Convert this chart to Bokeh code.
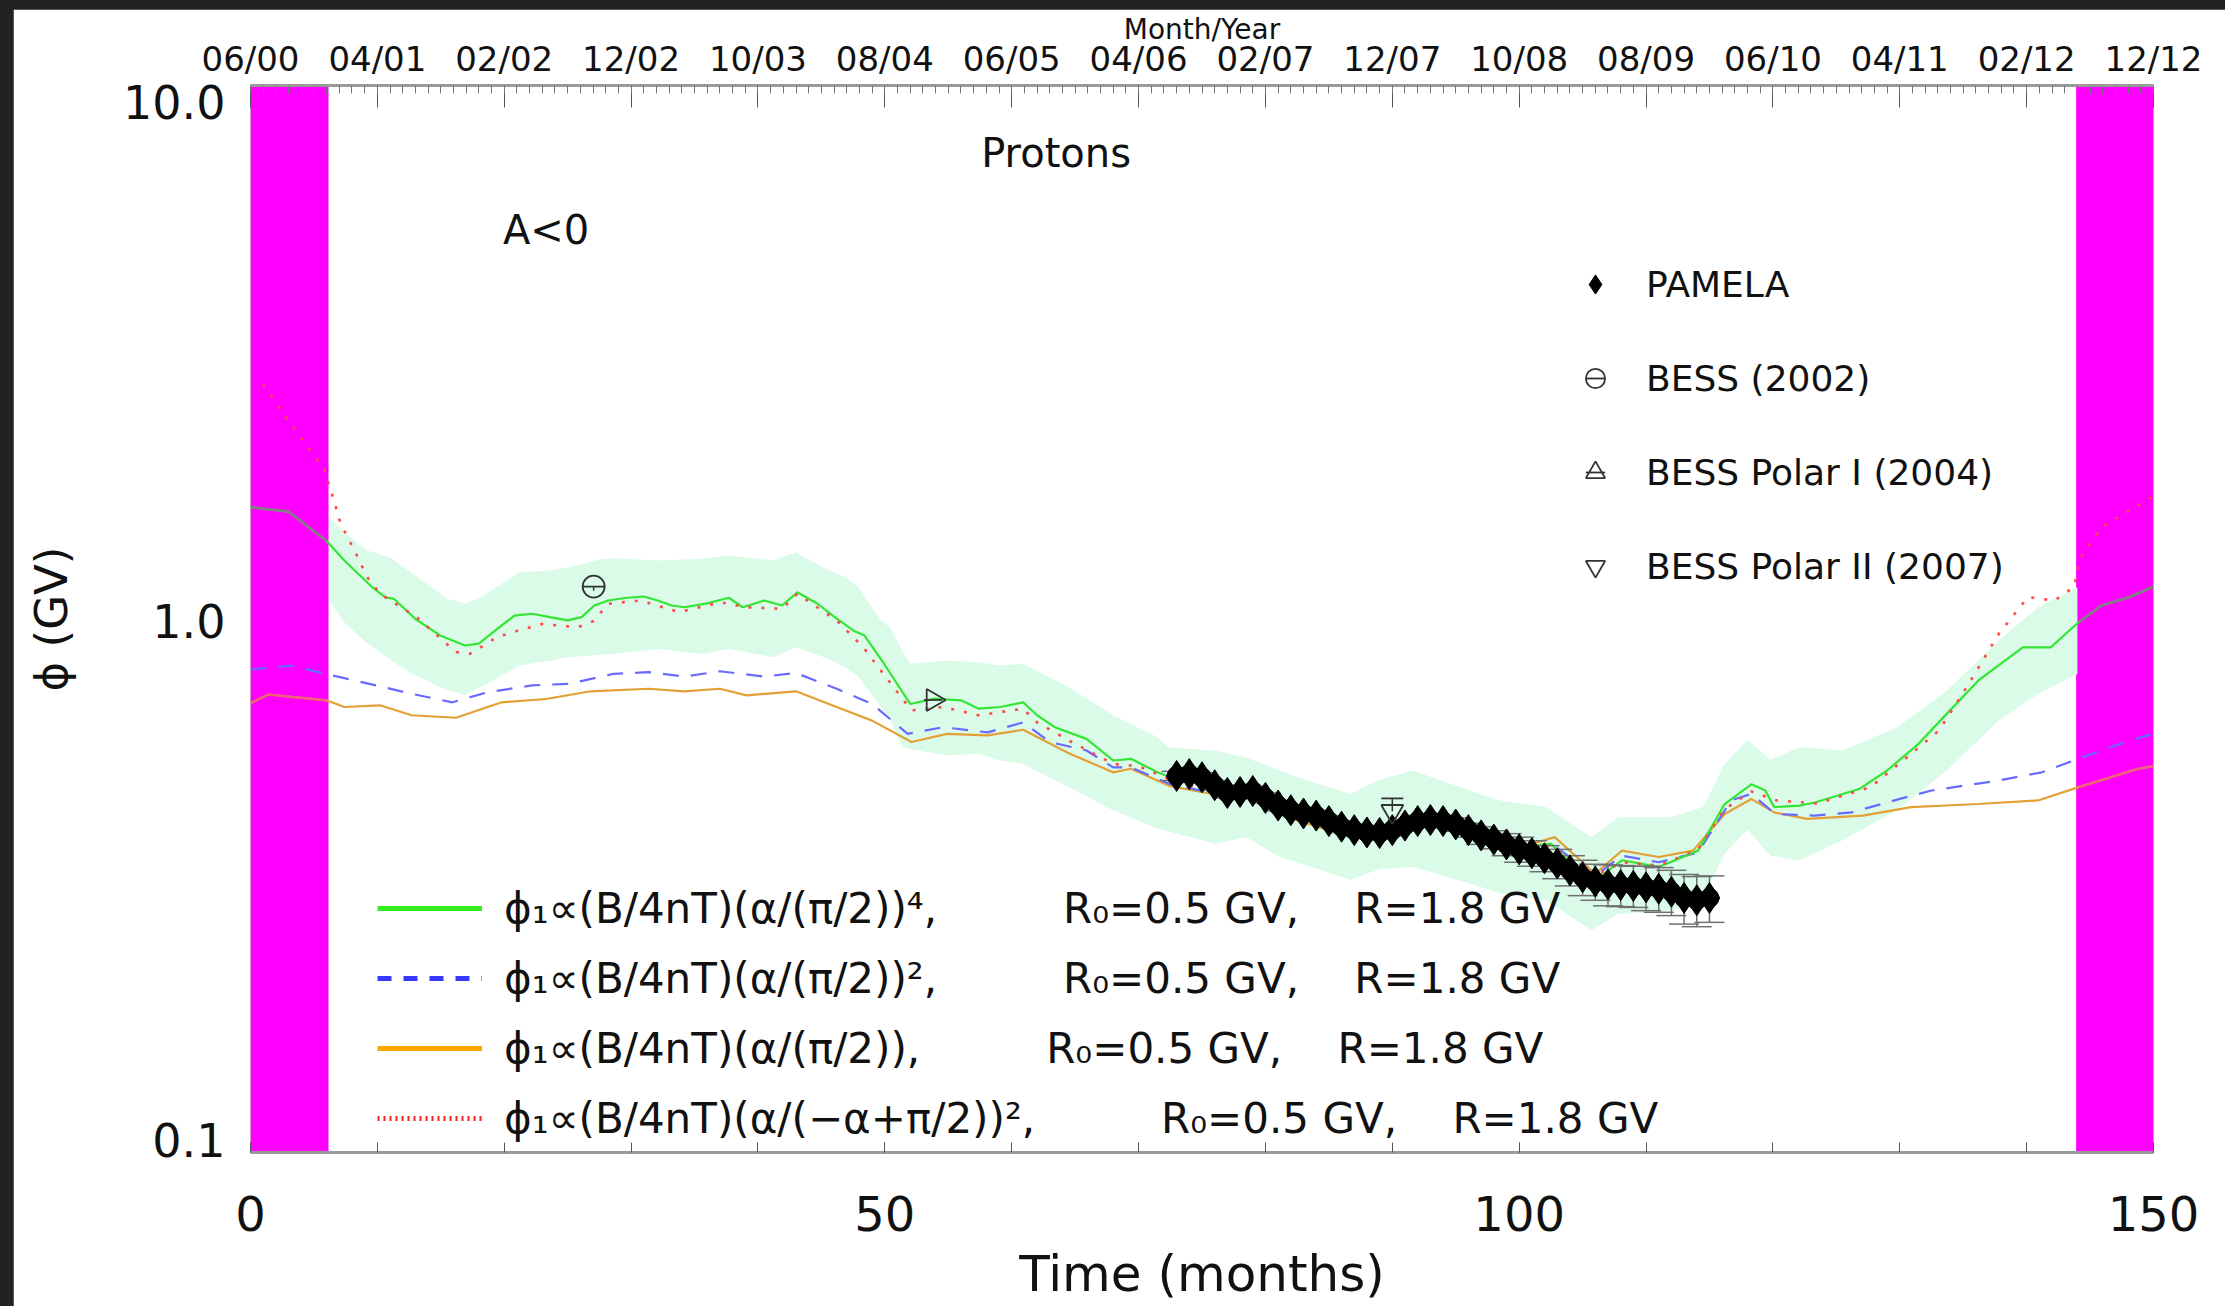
from bokeh.plotting import figure
from bokeh.models import (Range1d, LinearAxis, LogAxis, LogScale, FixedTicker, Legend,
                          LegendItem, Label, BoxAnnotation)
from bokeh.layouts import column
from bokeh.embed import file_html
from bokeh.resources import INLINE
import math

FONT = "DejaVu Sans"

# ---------------- data ----------------
# top axis (month/year) labels every 10 months
top_ticks = [0, 10, 20, 30, 40, 50, 60, 70, 80, 90, 100, 110, 120, 130, 140, 150]
top_labels = ["06/00", "04/01", "02/02", "12/02", "10/03", "08/04", "06/05", "04/06",
              "02/07", "12/07", "10/08", "08/09", "06/10", "04/11", "02/12", "12/12"]
bottom_ticks = [0, 50, 100, 150]
y_ticks = [0.1, 1, 10]
y_labels = ["0.1", "1.0", "10.0"]

# periods without data (magenta)
gap_start = [0, 143.9]
gap_end = [6.15, 150]

# phi ~ (B/4nT)(alpha/(pi/2))^4  (green)
months_g = [0, 3, 6, 7.4, 9.6, 10.6, 11.3, 13, 15, 16.9, 18, 19.5, 20.8, 22.2, 23.6, 25, 26.1,
            27.1, 28.2, 29.5, 31, 32.1, 33.2, 34.2, 36, 37.7, 38.8, 40.5, 41.9, 43.1, 44.7, 46,
            47.5, 48.4, 50, 52, 53.9, 56, 57.4, 59.1, 60.9, 62, 63.4, 65.9, 68, 69.4, 71.5, 72.5,
            74, 75.8, 77.5, 79.6, 81.7, 84, 86.7, 89.5, 92.7, 94.5, 96.6, 98.5, 100.4, 102.5, 104,
            106, 108.1, 111, 114.1, 116.2, 118.3, 119.4, 120.1, 122.1, 123.3, 126.8, 129, 131.5,
            133.7, 136.2, 139.7, 141.9, 144.1, 145.9, 148.1, 150]
phi_a4 = [1.62, 1.59, 1.40, 1.287, 1.147, 1.099, 1.091, 1.0, 0.93, 0.892, 0.899, 0.96, 1.015,
          1.023, 1.008, 0.994, 1.008, 1.06, 1.083, 1.095, 1.102, 1.083, 1.06, 1.052, 1.07, 1.096,
          1.052, 1.083, 1.06, 1.122, 1.068, 1.01, 0.952, 0.931, 0.82, 0.693, 0.709, 0.704, 0.679,
          0.684, 0.698, 0.66, 0.627, 0.596, 0.543, 0.547, 0.516, 0.505, 0.5, 0.477, 0.478, 0.477,
          0.431, 0.415, 0.398, 0.401, 0.431, 0.425, 0.413, 0.395, 0.374, 0.379, 0.35, 0.324,
          0.353, 0.343, 0.368, 0.45, 0.49, 0.477, 0.444, 0.447, 0.453, 0.48, 0.52, 0.584, 0.664,
          0.767, 0.885, 0.885, 0.986, 1.06, 1.099, 1.15]

# phi ~ (B/4nT)(alpha/(pi/2))^2  (blue dashed)
months_b = [0, 3.2, 6.1, 9.9, 12.7, 15.9, 18.7, 22.2, 25.1, 28.6, 31.4, 34.2, 37, 40.5, 43, 46.2,
            49, 51.8, 54.6, 58.1, 60.9, 63, 65.9, 68, 69.4, 72.5, 75.8, 79.6, 81.7, 86.7, 89.5,
            92.7, 96.6, 100.4, 102.5, 106, 108.1, 111, 114.1, 116.7, 118.3, 120.2, 123.3, 126.2,
            130, 132.5, 137.8, 141.2, 143.7, 147.8, 150]
phi_a2 = [0.804, 0.818, 0.787, 0.751, 0.724, 0.698, 0.729, 0.751, 0.756, 0.789, 0.795, 0.78, 0.798,
          0.78, 0.792, 0.74, 0.693, 0.609, 0.627, 0.613, 0.64, 0.588, 0.567, 0.527, 0.527, 0.49,
          0.472, 0.47, 0.428, 0.395, 0.398, 0.428, 0.408, 0.372, 0.38, 0.33, 0.36, 0.35, 0.365,
          0.457, 0.47, 0.431, 0.428, 0.434, 0.46, 0.477, 0.498, 0.516, 0.543, 0.588, 0.61]

# phi ~ (B/4nT)(alpha/(pi/2))  (orange)
months_o = [0, 1.4, 6.0, 7.4, 10.2, 12.7, 16.2, 19.8, 23.3, 26.8, 31.4, 34.2, 37, 39.1, 43, 46.2,
            49, 52.1, 54.9, 58.1, 60.9, 64.5, 68, 69.4, 72.5, 75.8, 79.6, 81.7, 86.7, 89.5, 92.7,
            96.6, 100.4, 102.8, 106, 108.1, 111, 113.7, 116.2, 118.3, 120.1, 122.7, 127.1, 130.9,
            136.2, 140.9, 144.1, 148.8, 150]
phi_a1 = [0.695, 0.722, 0.704, 0.684, 0.689, 0.66, 0.653, 0.698, 0.708, 0.732, 0.74, 0.732, 0.74,
          0.719, 0.732, 0.684, 0.645, 0.588, 0.609, 0.605, 0.62, 0.56, 0.516, 0.524, 0.486, 0.47,
          0.468, 0.425, 0.39, 0.395, 0.425, 0.405, 0.375, 0.39, 0.333, 0.368, 0.358, 0.368, 0.431,
          0.46, 0.434, 0.422, 0.428, 0.444, 0.45, 0.457, 0.484, 0.524, 0.53]

# phi ~ (B/4nT)(alpha/(-alpha+pi/2))^2  (red dotted)
months_r = [1.0, 3.0, 5.8, 6.5, 7.1, 8.2, 9.2, 10.2, 13.1, 16.2, 17.3, 19.4, 21.0, 23.0, 25.8, 27.0,
            28.2, 30.7, 33.8, 37.0, 39.1, 41.9, 43.1, 46.2, 48.3, 49.7, 52.1, 54.6, 57.4, 60.9, 62.0,
            64.5, 68.0, 70.0, 72.5, 75.8, 79.6, 81.7, 86.7, 89.5, 92.7, 96.6, 100.4, 102.5, 106.0,
            108.1, 111.0, 114.1, 116.2, 118.3, 120.3, 123.5, 127.7, 130.9, 133.1, 135.6, 137.8,
            140.1, 142.2, 143.7, 144.4, 145.9, 148.5, 150]
phi_am = [2.75, 2.35, 1.91, 1.69, 1.51, 1.344, 1.198, 1.115, 1.008, 0.867, 0.86, 0.924, 0.95,
          0.979, 0.965, 0.99, 1.068, 1.083, 1.03, 1.075, 1.052, 1.045, 1.115, 0.994, 0.885, 0.80,
          0.674, 0.684, 0.66, 0.679, 0.64, 0.592, 0.535, 0.53, 0.50, 0.475, 0.47, 0.43, 0.395, 0.40,
          0.428, 0.41, 0.37, 0.376, 0.33, 0.35, 0.345, 0.37, 0.44, 0.475, 0.457, 0.451, 0.484,
          0.559, 0.618, 0.767, 0.938, 1.099, 1.083, 1.147, 1.325, 1.486, 1.62, 1.7]

# uncertainty band (light green)
band_months = [6.2, 7.5, 9.2, 11, 12.7, 15.5, 16.9, 18, 18.7, 21.2, 23.6, 25.1, 27.8, 28.6, 32.1,
               35.6, 37.7, 41.2, 43, 45.1, 46.9, 47.9, 49.7, 50.4, 51.4, 52, 54.9, 57.4, 59.1,
               60.9, 64.5, 68, 71.5, 72.3, 76, 78.5, 81.1, 82, 86.7, 89, 91.6, 92.6, 96.9, 98.5,
               102.1, 105.7, 107.8, 112, 114.5, 116.2, 118, 119.8, 122.1, 125.5, 129.8, 133.7,
               137.8, 140.9, 144]
band_hi = [1.55, 1.45, 1.344, 1.306, 1.22, 1.091, 1.07, 1.091, 1.12, 1.224, 1.233, 1.25, 1.297,
           1.30, 1.287, 1.297, 1.315, 1.287, 1.334, 1.25, 1.198, 1.147, 0.994, 0.965, 0.87, 0.824,
           0.836, 0.83, 0.818, 0.824, 0.745, 0.66, 0.60, 0.575, 0.567, 0.55, 0.52, 0.51, 0.47,
           0.50, 0.52, 0.51, 0.47, 0.457, 0.444, 0.39, 0.425, 0.425, 0.444, 0.535, 0.594, 0.545,
           0.575, 0.567, 0.627, 0.734, 0.911, 1.052, 1.147]
band_lo = [1.08, 0.98, 0.90, 0.84, 0.79, 0.735, 0.72, 0.745, 0.757, 0.818, 0.835, 0.848, 0.858,
           0.86, 0.879, 0.86, 0.879, 0.848, 0.885, 0.85, 0.812, 0.78, 0.684, 0.65, 0.575, 0.57,
           0.555, 0.559, 0.543, 0.535, 0.484, 0.438, 0.405, 0.40, 0.379, 0.39, 0.358, 0.353,
           0.324, 0.34, 0.343, 0.338, 0.315, 0.306, 0.297, 0.261, 0.28, 0.284, 0.30, 0.363, 0.403,
           0.36, 0.353, 0.385, 0.438, 0.52, 0.645, 0.724, 0.789]

# PAMELA proton data
pamela_months = [73, 74, 75, 76, 77, 78, 79, 80, 81, 82, 83, 84, 85, 86, 87, 88, 89, 90, 91, 92,
                 93, 94, 95, 96, 97, 98, 99, 100, 101, 102, 103, 104, 105, 106, 107, 108, 109,
                 110, 111, 112, 113, 114, 115]
pamela_phi = [0.508, 0.512, 0.505, 0.488, 0.472, 0.474, 0.476, 0.462, 0.447, 0.438, 0.432, 0.428,
              0.418, 0.408, 0.402, 0.398, 0.397, 0.402, 0.41, 0.418, 0.42, 0.418, 0.412, 0.402,
              0.393, 0.386, 0.378, 0.37, 0.364, 0.356, 0.348, 0.338, 0.328, 0.322, 0.318, 0.317,
              0.316, 0.314, 0.312, 0.308, 0.300, 0.297, 0.300]
pamela_err = [0.01, 0.01, 0.01, 0.01, 0.01, 0.01, 0.01, 0.01, 0.01, 0.01, 0.01, 0.01, 0.01, 0.01,
              0.01, 0.01, 0.01, 0.01, 0.01, 0.01, 0.01, 0.01, 0.012, 0.012, 0.015, 0.015, 0.018,
              0.02, 0.02, 0.02, 0.022, 0.022, 0.025, 0.025, 0.028, 0.028, 0.028, 0.03, 0.03, 0.03,
              0.032, 0.032, 0.03]

# BESS balloon points
bess_month, bess_phi, bess_err = [27.05], [1.15], [0.02]
polar1_month, polar1_phi = [53.8], [0.705]
polar2_month, polar2_phi, polar2_err = [90.0], [0.436], [0.025]

model_labels = [
    "\u03d5\u2081\u221d(B/4nT)(\u03b1/(\u03c0/2))\u2074,\u2003\u2003\u2003R\u2080=0.5 GV,\u2003 R=1.8 GV",
    "\u03d5\u2081\u221d(B/4nT)(\u03b1/(\u03c0/2))\u00b2,\u2003\u2003\u2003R\u2080=0.5 GV,\u2003 R=1.8 GV",
    "\u03d5\u2081\u221d(B/4nT)(\u03b1/(\u03c0/2)),\u2003\u2003\u2003R\u2080=0.5 GV,\u2003 R=1.8 GV",
    "\u03d5\u2081\u221d(B/4nT)(\u03b1/(\u2212\u03b1+\u03c0/2))\u00b2,\u2003\u2003\u2003R\u2080=0.5 GV,\u2003 R=1.8 GV",
]
data_labels = ["PAMELA", "BESS (2002)", "BESS Polar I (2004)", "BESS Polar II (2007)"]


def inside_gaps(xs, ys):
    """split a series into the parts lying within the magenta periods"""
    parts = []
    for a, b in zip(gap_start, gap_end):
        px = [x for x in xs if a - 0.3 <= x <= b + 0.3]
        py = [y for x, y in zip(xs, ys) if a - 0.3 <= x <= b + 0.3]
        if len(px) > 1:
            parts.append((px, py))
    return parts


# ---------------- figure ----------------
p = figure(frame_width=1903, frame_height=1067,
           x_range=Range1d(0, 150), y_range=Range1d(0.1, 10), y_axis_type="log",
           y_axis_location=None,
           output_backend="svg", toolbar_location=None,
           min_border_left=237, min_border_right=72, min_border_top=76, min_border_bottom=154)
p.margin = (9, 0, 0, 13)
p.outline_line_color = None
p.grid.visible = False
p.background_fill_color = "white"
p.border_fill_color = "white"

p.title.text = "Month/Year"
p.title.align = "center"
p.title.text_font = FONT
p.title.text_font_size = "28px"
p.title.text_font_style = "normal"
p.title.text_color = "#111111"
p.title.standoff = -21

# magenta no-data periods
for a, b in zip(gap_start, gap_end):
    p.add_layout(BoxAnnotation(left=a, right=b, fill_color="#ff00ff", fill_alpha=1.0,
                               line_color=None, level="underlay"))

# light green band
p.varea(x=band_months, y1=band_lo, y2=band_hi, fill_color="#dbfbe9", fill_alpha=1.0)

# model curves
p.line(months_o, phi_a1, line_color="#e3a035", line_width=2.2)
p.line(months_b, phi_a2, line_color="#6a6aff", line_width=2.2, line_dash="16 12")
p.line(months_g, phi_a4, line_color="#33e633", line_width=2.2)
p.line(months_r, phi_am, line_color="#ff4a4a", line_width=2.6, line_dash="3 10")
for px, py in inside_gaps(months_g, phi_a4):
    p.line(px, py, line_color="#857a88", line_width=2.2)
for px, py in inside_gaps(months_o, phi_a1):
    p.line(px, py, line_color="#f0607a", line_width=2.2)

# PAMELA error bars + points
pam_lo = [v - e for v, e in zip(pamela_phi, pamela_err)]
pam_hi = [v + e for v, e in zip(pamela_phi, pamela_err)]
p.segment(x0=pamela_months, y0=pam_lo, x1=pamela_months, y1=pam_hi, line_color="#707070",
          line_width=1.5)
p.scatter(pamela_months, pam_lo, marker="dash", size=30, line_color="#707070", line_width=1.5)
p.scatter(pamela_months, pam_hi, marker="dash", size=30, line_color="#707070", line_width=1.5)
r_pam = p.scatter(pamela_months, pamela_phi, marker="diamond", size=31, fill_color="black",
                  line_color="black")
p.scatter(pamela_months, pamela_phi, marker="circle", size=19, fill_color="black",
          line_color="black")

# BESS points
bess_lo = [v - e for v, e in zip(bess_phi, bess_err)]
p.segment(x0=bess_month, y0=bess_lo, x1=bess_month, y1=bess_phi, line_color="#333333",
          line_width=1.5)
r_b1 = p.scatter(bess_month, bess_phi, marker="circle", size=22, fill_color=None,
                 line_color="#333333", line_width=1.8)
r_b2 = p.scatter(bess_month, bess_phi, marker="dash", size=22, line_color="#333333",
                 line_width=1.8)
r_p1a = p.scatter(polar1_month, polar1_phi, marker="triangle", angle=-math.pi / 2, size=22,
                  fill_color=None, line_color="#333333", line_width=1.8)
r_p1b = p.scatter(polar1_month, polar1_phi, marker="dash", size=18, line_color="#333333",
                  line_width=1.8)
p2_hi = [v + e for v, e in zip(polar2_phi, polar2_err)]
r_p2a = p.scatter(polar2_month, polar2_phi, marker="inverted_triangle", size=22,
                  fill_color=None, line_color="#333333", line_width=1.8)
r_p2b = p.scatter(polar2_month, p2_hi, marker="dash", size=22, line_color="#333333",
                  line_width=1.8)
p.segment(x0=polar2_month, y0=polar2_phi, x1=polar2_month, y1=p2_hi, line_color="#333333",
          line_width=1.5)

# legend sample glyphs (single point: the line itself draws nothing)
lg_g = p.line(months_g[:1], phi_a4[:1], line_color="#33ee22", line_width=5)
lg_b = p.line(months_b[:1], phi_a2[:1], line_color="#3838ff", line_width=5, line_dash="14 12")
lg_o = p.line(months_o[:1], phi_a1[:1], line_color="#ffa500", line_width=5)
lg_r = p.line(months_r[:1], phi_am[:1], line_color="#ff2020", line_width=5, line_dash="2 4")

leg1 = Legend(items=[LegendItem(label=model_labels[0], renderers=[lg_g]),
                     LegendItem(label=model_labels[1], renderers=[lg_b]),
                     LegendItem(label=model_labels[2], renderers=[lg_o]),
                     LegendItem(label=model_labels[3], renderers=[lg_r])],
              location=(127, 9), orientation="vertical", glyph_width=105, glyph_height=50,
              label_height=50, spacing=20, padding=0, margin=0, label_standoff=22,
              label_text_font=FONT, label_text_font_size="42px", label_text_color="#111111",
              border_line_color=None, background_fill_alpha=0)
p.add_layout(leg1)

leg2 = Legend(items=[LegendItem(label=data_labels[0], renderers=[r_pam]),
                     LegendItem(label=data_labels[1], renderers=[r_b1, r_b2]),
                     LegendItem(label=data_labels[2], renderers=[r_p1a, r_p1b]),
                     LegendItem(label=data_labels[3], renderers=[r_p2a])],
              location=(1321, 562), orientation="vertical", glyph_width=48, glyph_height=48,
              label_height=48, spacing=46, padding=0, margin=0, label_standoff=27,
              label_text_font=FONT, label_text_font_size="36px", label_text_color="#111111",
              border_line_color=None, background_fill_alpha=0)
p.add_layout(leg2)

# ---------------- axes ----------------
xb = p.below[0]
xb.ticker = FixedTicker(ticks=bottom_ticks, minor_ticks=list(range(0, 151, 10)))
xb.major_tick_in = 10
xb.major_tick_out = 0
xb.minor_tick_in = 10
xb.minor_tick_out = 0
xb.major_tick_line_color = "#555555"
xb.minor_tick_line_color = "#555555"
xb.axis_line_color = "#9a9a9a"
xb.axis_line_width = 3
xb.major_label_text_font = FONT
xb.major_label_text_font_size = "48px"
xb.major_label_text_color = "#111111"
xb.major_label_standoff = 43
xb.axis_label = "Time (months)"
xb.axis_label_text_font = FONT
xb.axis_label_text_font_size = "50px"
xb.axis_label_text_font_style = "normal"
xb.axis_label_text_color = "#111111"
xb.axis_label_standoff = 11

# left axis on a slightly wider twin range, so that "10.0" and "0.1" sit inside the frame
# edges as in the original figure
p.extra_y_ranges = {"ylab": Range1d(0.0945, 10.76)}
p.extra_y_scales = {"ylab": LogScale()}
yl = LogAxis(y_range_name="ylab", ticker=FixedTicker(ticks=y_ticks, minor_ticks=[]),
             major_label_overrides=dict(zip(y_ticks, y_labels)))
yl.major_tick_line_color = None
yl.minor_tick_line_color = None
yl.axis_line_color = None
yl.major_label_text_font = FONT
yl.major_label_text_font_size = "46px"
yl.major_label_text_color = "#111111"
yl.major_label_standoff = 19
yl.axis_label = "\u03d5 (GV)"
yl.axis_label_text_font = FONT
yl.axis_label_text_font_size = "45px"
yl.axis_label_text_font_style = "normal"
yl.axis_label_text_color = "#111111"
yl.axis_label_standoff = 42
p.add_layout(yl, "left")

xt = LinearAxis(ticker=FixedTicker(ticks=top_ticks, minor_ticks=list(range(0, 151))),
                major_label_overrides=dict(zip(top_ticks, top_labels)))
xt.major_tick_in = 22
xt.major_tick_out = 0
xt.minor_tick_in = 8
xt.minor_tick_out = 0
xt.major_tick_line_color = "#555555"
xt.minor_tick_line_color = "#777777"
xt.axis_line_color = "#9a9a9a"
xt.axis_line_width = 3
xt.major_label_text_font = FONT
xt.major_label_text_font_size = "34px"
xt.major_label_text_color = "#111111"
xt.major_label_standoff = 7
p.add_layout(xt, "above")

# ---------------- texts ----------------
p.add_layout(Label(x=63.5, y=7.46, text="Protons", text_align="center", text_baseline="middle",
                   text_font=FONT, text_font_size="40px", text_color="#111111"))
p.add_layout(Label(x=23.3, y=5.35, text="A<0", text_align="center", text_baseline="middle",
                   text_font=FONT, text_font_size="40px", text_color="#111111"))

layout = column(p, styles={"background-color": "#222222"})
open("out.html", "w").write(file_html(layout, INLINE))
